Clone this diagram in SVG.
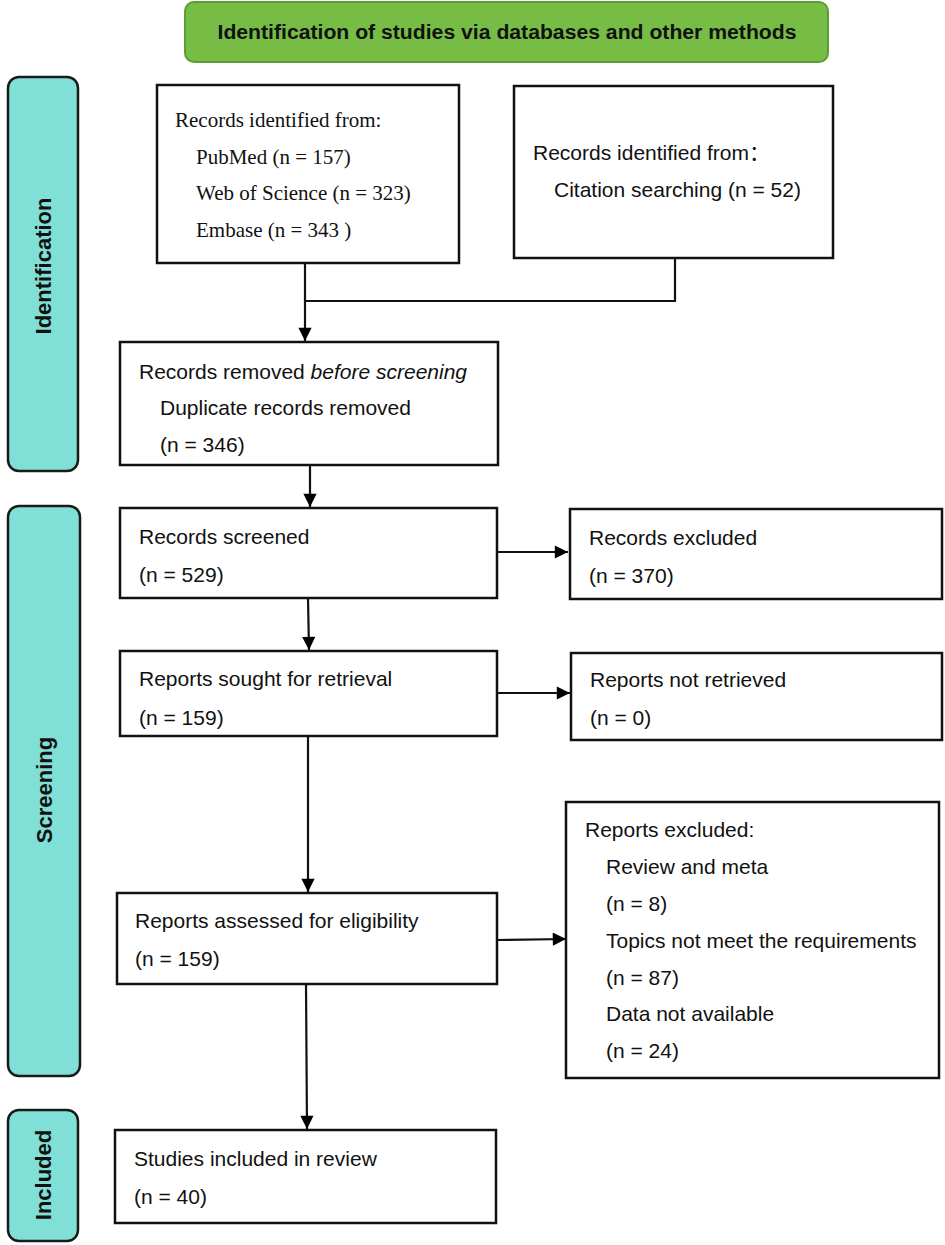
<svg xmlns="http://www.w3.org/2000/svg" width="945" height="1245" viewBox="0 0 945 1245">
<defs>
<marker id="arr" viewBox="0 0 10 10" refX="10" refY="5" markerWidth="6.5" markerHeight="6" markerUnits="strokeWidth" orient="auto">
<path d="M0,0 L10,5 L0,10 z" fill="#000"/>
</marker>
</defs>
<style>
.box{fill:#fff;stroke:#111;stroke-width:2.5}
.side{fill:#80E0D8;stroke:#1a1a1a;stroke-width:2.5}
.t{font-family:"Liberation Sans",Arial,sans-serif;font-size:21px;fill:#111}
.tr{font-family:"Liberation Serif","Times New Roman",serif;font-size:21px;fill:#111}
.sl{font-family:"Liberation Sans",Arial,sans-serif;font-size:22px;font-weight:bold;fill:#111}
.ttl{font-family:"Liberation Sans",Arial,sans-serif;font-size:20px;font-weight:bold;fill:#111}
.ln{stroke:#111;stroke-width:2.2;fill:none}
</style>
<rect width="945" height="1245" fill="#fff"/>
<g id="banner">
<rect x="185" y="2" width="643" height="60" rx="9" fill="#77BD45" stroke="#5E9C34" stroke-width="2"/>
<text x="507" y="39" text-anchor="middle" class="ttl" textLength="579" lengthAdjust="spacingAndGlyphs">Identification of studies via databases and other methods</text>
</g>
<g id="side-identification">
<rect class="side" x="8" y="77" width="70" height="394" rx="11"/>
<text class="sl" transform="translate(51,266) rotate(-90)" text-anchor="middle">Identification</text>
</g>
<g id="side-screening">
<rect class="side" x="8" y="506" width="72" height="570" rx="11"/>
<text class="sl" transform="translate(52,790) rotate(-90)" text-anchor="middle">Screening</text>
</g>
<g id="side-included">
<rect class="side" x="8" y="1110" width="70" height="131" rx="11"/>
<text class="sl" transform="translate(51,1175) rotate(-90)" text-anchor="middle">Included</text>
</g>
<g id="connectors">
<polyline class="ln" points="305,263 305,301 675,301 675,258"/>
<line class="ln" x1="305" y1="301" x2="305" y2="341" marker-end="url(#arr)"/>
<line class="ln" x1="310" y1="465" x2="310" y2="507" marker-end="url(#arr)"/>
<line class="ln" x1="497" y1="552" x2="568" y2="552" marker-end="url(#arr)"/>
<line class="ln" x1="308" y1="598" x2="309" y2="650" marker-end="url(#arr)"/>
<line class="ln" x1="497" y1="693" x2="570" y2="693" marker-end="url(#arr)"/>
<line class="ln" x1="308" y1="736" x2="308" y2="892" marker-end="url(#arr)"/>
<line class="ln" x1="497" y1="940" x2="566" y2="939" marker-end="url(#arr)"/>
<line class="ln" x1="306" y1="984" x2="307" y2="1129" marker-end="url(#arr)"/>
</g>
<g id="db-records">
<rect class="box" x="157" y="85" width="302" height="178"/>
<text class="tr" x="175" y="127">Records identified from:</text>
<text class="tr" x="196" y="164">PubMed (n = 157)</text>
<text class="tr" x="196" y="200">Web of Science (n = 323)</text>
<text class="tr" x="196" y="237">Embase (n = 343 )</text>
</g>
<g id="other-records">
<rect class="box" x="514" y="86" width="319" height="172"/>
<text class="t" x="533" y="160">Records identified from<tspan font-family="'Noto Sans CJK SC',sans-serif">：</tspan></text>
<text class="t" x="554" y="197">Citation searching (n = 52)</text>
</g>
<g id="removed">
<rect class="box" x="120" y="342" width="378" height="123"/>
<text class="t" x="139" y="379">Records removed <tspan font-style="italic">before screening</tspan></text>
<text class="t" x="160" y="415">Duplicate records removed</text>
<text class="t" x="160" y="452">(n = 346)</text>
</g>
<g id="screened">
<rect class="box" x="120" y="508" width="377" height="90"/>
<text class="t" x="139" y="544">Records screened</text>
<text class="t" x="139" y="582">(n = 529)</text>
</g>
<g id="excluded">
<rect class="box" x="570" y="509" width="372" height="90"/>
<text class="t" x="589" y="545">Records excluded</text>
<text class="t" x="589" y="583">(n = 370)</text>
</g>
<g id="sought">
<rect class="box" x="120" y="651" width="377" height="85"/>
<text class="t" x="139" y="686">Reports sought for retrieval</text>
<text class="t" x="139" y="725">(n = 159)</text>
</g>
<g id="not-retrieved">
<rect class="box" x="571" y="653" width="371" height="87"/>
<text class="t" x="590" y="687">Reports not retrieved</text>
<text class="t" x="590" y="725">(n = 0)</text>
</g>
<g id="assessed">
<rect class="box" x="117" y="893" width="380" height="91"/>
<text class="t" x="135" y="928">Reports assessed for eligibility</text>
<text class="t" x="135" y="966">(n = 159)</text>
</g>
<g id="reports-excluded">
<rect class="box" x="566" y="802" width="373" height="276"/>
<text class="t" x="585" y="837">Reports excluded:</text>
<text class="t" x="606" y="874">Review and meta</text>
<text class="t" x="606" y="911">(n = 8)</text>
<text class="t" x="606" y="948">Topics not meet the requirements</text>
<text class="t" x="606" y="985">(n = 87)</text>
<text class="t" x="606" y="1021">Data not available</text>
<text class="t" x="606" y="1058">(n = 24)</text>
</g>
<g id="included">
<rect class="box" x="115" y="1130" width="381" height="93"/>
<text class="t" x="134" y="1166">Studies included in review</text>
<text class="t" x="134" y="1204">(n = 40)</text>
</g>
</svg>
